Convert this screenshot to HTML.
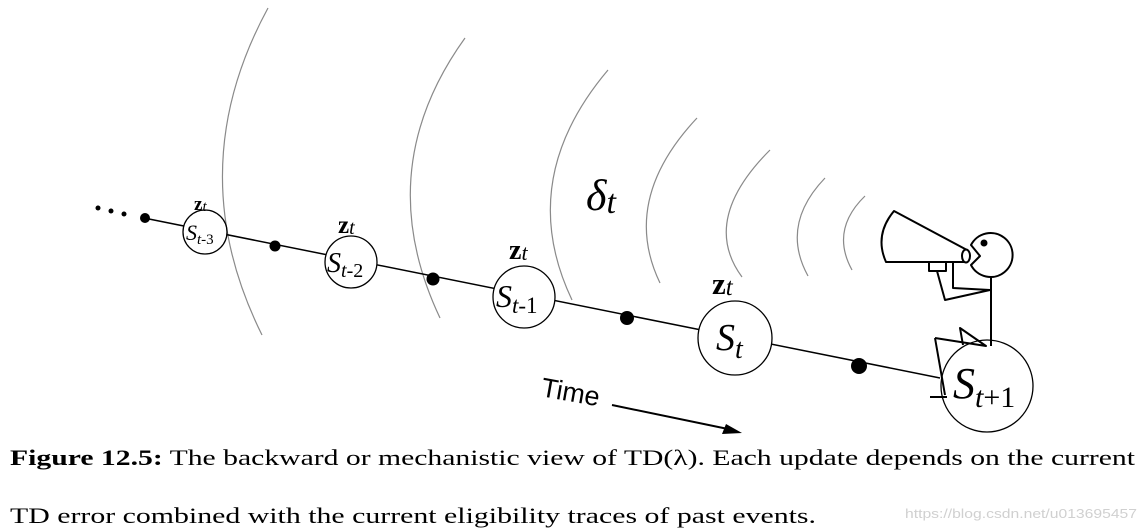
<!DOCTYPE html>
<html><head><meta charset="utf-8"><style>html,body{margin:0;padding:0;background:#fff}svg{display:block}</style></head>
<body>
<svg width="1146" height="529" viewBox="0 0 1146 529" xmlns="http://www.w3.org/2000/svg">
<g fill="none" stroke="#8a8a8a" stroke-width="1.2">
<path d="M268,8 Q180,170 262,335"/>
<path d="M465,38 Q370,170 440,318"/>
<path d="M608,70 Q515,180 572,300"/>
<path d="M697,118 Q620,200 660,283"/>
<path d="M770,150 Q700,220 742,277"/>
<path d="M825,178 Q780,225 808,276"/>
<path d="M865,196 Q830,230 852,270"/>
</g>
<g stroke="#000" stroke-width="1.5">
<line x1="144" y1="218" x2="940" y2="378"/>
</g>
<g fill="#000">
<circle cx="98" cy="208" r="2.5"/><circle cx="111" cy="211" r="2.5"/><circle cx="124" cy="214" r="2.5"/>
<circle cx="145" cy="218" r="5"/><circle cx="275" cy="246" r="5.5"/><circle cx="433" cy="279" r="6.5"/><circle cx="627" cy="318" r="7"/><circle cx="859" cy="366" r="8"/>
</g>
<g fill="#fff" stroke="#000" stroke-width="1.3">
<circle cx="205" cy="232" r="22"/>
<circle cx="351" cy="262" r="26"/>
<circle cx="524" cy="297" r="31"/>
<circle cx="735" cy="338" r="37"/>
<circle cx="987" cy="386" r="46"/>
</g>
<g font-family="Liberation Serif, serif" font-style="italic" fill="#000">
<text x="186" y="240" font-size="22">S<tspan font-size="15" dy="4">t</tspan><tspan font-style="normal" font-size="15">-3</tspan></text>
<text x="327" y="272" font-size="28">S<tspan font-size="20" dy="5">t</tspan><tspan font-style="normal" font-size="20">-2</tspan></text>
<text x="496" y="307" font-size="32">S<tspan font-size="23" dy="6">t</tspan><tspan font-style="normal" font-size="23">-1</tspan></text>
<text x="716" y="350" font-size="38">S<tspan font-size="28" dy="8">t</tspan></text>
<text x="953" y="398" font-size="44">S<tspan font-size="30" dy="9">t</tspan><tspan font-style="normal" font-size="30">+1</tspan></text>
<text x="586" y="210" font-size="44">δ<tspan font-size="34" dy="3">t</tspan></text>
</g>
<g font-family="Liberation Serif, serif" fill="#000" font-weight="bold">
<text x="194" y="210" font-size="19">z<tspan font-style="italic" font-weight="normal" font-size="15" dy="1">t</tspan></text>
<text x="338" y="233" font-size="25">z<tspan font-style="italic" font-weight="normal" font-size="20" dy="1">t</tspan></text>
<text x="509" y="259" font-size="28">z<tspan font-style="italic" font-weight="normal" font-size="22" dy="1">t</tspan></text>
<text x="712" y="294" font-size="31">z<tspan font-style="italic" font-weight="normal" font-size="25" dy="1">t</tspan></text>
</g>
<text x="540" y="396" font-family="Liberation Sans, sans-serif" font-size="27" transform="rotate(10 540 396)">Time</text>
<line x1="612" y1="405" x2="728" y2="429" stroke="#000" stroke-width="2"/>
<polygon points="742,433 722,434 726,424" fill="#000"/>
<g fill="none" stroke="#000" stroke-width="2" stroke-linejoin="round">
<path d="M894,211 L967,250 L967,262 L886,262 Q874,235 894,211 Z" fill="#fff"/>
<ellipse cx="966" cy="256" rx="4" ry="6.5" fill="#fff"/>
<rect x="929" y="262" width="17" height="9"/>
<path d="M971,245 A22,22 0 1,1 971,265 L980,256 Z" fill="#fff"/>
<path d="M953,262 L953,288 L990,290"/>
<path d="M937,271 L945,300 L990,290"/>
<line x1="991" y1="277" x2="991" y2="346"/>
<path d="M935,338 L986,346 L960,328 L963,345"/>
<path d="M935,338 L945,395 M930,397 L947,397"/>
</g>
<circle cx="984" cy="243" r="3.5" fill="#000"/>
<g font-family="Liberation Serif, serif" font-size="22" fill="#000">
<text x="10" y="465" textLength="1125" lengthAdjust="spacingAndGlyphs"><tspan font-weight="bold">Figure 12.5:</tspan> The backward or mechanistic view of TD(λ). Each update depends on the current</text>
<text x="10" y="523" textLength="806" lengthAdjust="spacingAndGlyphs">TD error combined with the current eligibility traces of past events.</text>
</g>
<text x="905" y="518" font-family="Liberation Sans, sans-serif" font-size="13" fill="#d0d0d0" textLength="232" lengthAdjust="spacingAndGlyphs">https://blog.csdn.net/u013695457</text>
</svg>
</body></html>
